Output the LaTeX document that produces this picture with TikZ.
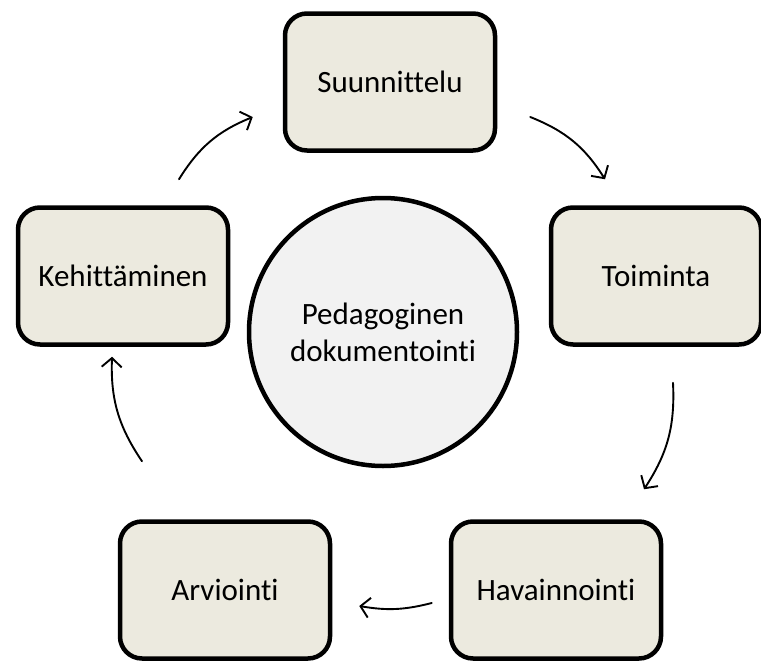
\documentclass[tikz,border=0pt]{standalone}
\usepackage{fontspec}
\setmainfont{Carlito}[Ligatures=NoCommon]
\usetikzlibrary{arrows.meta}
\usetikzlibrary{calc}
\definecolor{boxfill}{HTML}{ECEADF}
\definecolor{hubfill}{HTML}{F2F2F2}
\tikzset{
phase/.style={
	rectangle,
	rounded corners=22pt,
	minimum width=210pt,
	minimum height=137pt,
	text centered,
	align=center,
	draw=black,
	line width=4.5pt,
	fill=boxfill,
	inner sep=4pt
},
hub/.style={
	circle,
	minimum size=268pt,
	text centered,
	align=center,
	draw=black,
	line width=4.5pt,
	fill=hubfill,
	inner sep=2pt
},
cyc/.style={
	-{Straight Barb[length=9pt,width=20pt,line width=1.9pt]},
	draw=black,
	line width=1.9pt,
	line cap=round,
	bend left=18
}
}

\begin{document}
\begin{tikzpicture}[x=1pt, y=-1pt, font=\fontsize{31}{37}\selectfont]
\useasboundingbox (0,0) rectangle (761,664);
% ===== Centre =====
\node (pedadok) [hub]   at (383, 332) {Pedagoginen\\dokumentointi};
% ===== Cycle of phases =====
\node (suunn)   [phase] at (390, 82)  {Suunnittelu};
\node (toim)    [phase] at (656, 276) {Toiminta};
\node (havain)  [phase] at (556, 590) {Havainnointi};
\node (arvio)   [phase] at (225, 590) {Arviointi};
\node (kehitt)  [phase] at (123, 276) {Kehittäminen};
% ===== Arrows between phases =====
\draw [cyc] ($(suunn.east)+(33,35)$)   to ($(toim.north)+(-51,-26)$);
\draw [cyc] ($(toim.south)+(17,36)$)   to ($(havain.north)+(88,-30)$);
\draw [cyc, bend left=12] ($(havain.west)+(-17,13)$) to ($(arvio.east)+(27,16)$);
\draw [cyc] ($(arvio.north)+(-83,-58)$) to ($(kehitt.south)+(-11,10)$);
\draw [cyc] ($(kehitt.north)+(56,-26)$) to ($(suunn.west)+(-30,35)$);
\end{tikzpicture}
\end{document}
